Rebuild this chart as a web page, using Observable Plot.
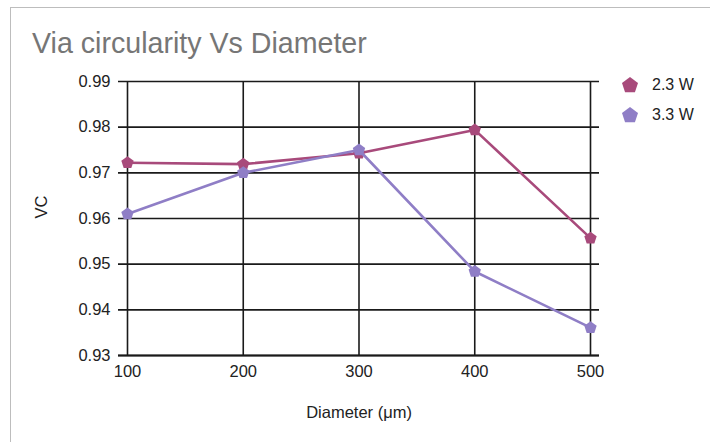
<!DOCTYPE html>
<html>
<head>
<meta charset="utf-8">
<script src="https://cdn.jsdelivr.net/npm/d3@7"></script>
<script src="https://cdn.jsdelivr.net/npm/@observablehq/plot@0.6"></script>
<style>
  html, body { margin: 0; padding: 0; background: #fff; overflow: hidden; }
  body { width: 710px; height: 442px; position: relative; font-family: "Liberation Sans", Arial, Helvetica, sans-serif; }
  #frame { position: absolute; left: 10px; top: 7px; width: 800px; height: 500px; border-left: 1.5px solid #bdbdbd; border-top: 1.5px solid #bdbdbd; }
  #title { position: absolute; left: 32px; top: 29px; font-size: 28.6px; line-height: 28px; color: #767676; white-space: nowrap; }
  #chart { position: absolute; left: 0; top: 0; }
  #legend { position: absolute; left: 621px; top: 70px; font-size: 16px; color: #222; }
  .item { display: flex; align-items: center; height: 30px; }
  .item svg { margin-right: 13px; }
</style>
</head>
<body>
<div id="frame"></div>
<div id="chart"></div>
<div id="title">Via circularity Vs Diameter</div>
<div id="legend"></div>
<script>
const diameters = [100, 200, 300, 400, 500];
const vc23 = [0.9722, 0.9719, 0.9743, 0.9794, 0.9557];
const vc33 = [0.9610, 0.9700, 0.9750, 0.9484, 0.9361];
const seriesNames = ["2.3 W", "3.3 W"];
const seriesColors = ["#a84a7b", "#8f7ec6"];
const yTicks = [0.93, 0.94, 0.95, 0.96, 0.97, 0.98, 0.99];
const xTicks = [100, 200, 300, 400, 500];

const pentagon = {
  draw(ctx, size) {
    const r = Math.sqrt(size / Math.PI);
    for (let i = 0; i < 5; i++) {
      const a = -Math.PI / 2 + i * 2 * Math.PI / 5;
      const x = r * Math.cos(a), y = r * Math.sin(a);
      if (i === 0) ctx.moveTo(x, y); else ctx.lineTo(x, y);
    }
    ctx.closePath();
  }
};

const rows23 = diameters.map((d, i) => ({d, v: vc23[i]}));
const rows33 = diameters.map((d, i) => ({d, v: vc33[i]}));

const chart = Plot.plot({
  width: 710,
  height: 442,
  marginTop: 81,
  marginBottom: 87,
  marginLeft: 127,
  marginRight: 120,
  style: {fontFamily: "'Liberation Sans', Arial, sans-serif", fontSize: "16.5px", color: "#222", background: "transparent"},
  x: {domain: [100, 500], ticks: xTicks},
  y: {domain: [0.93, 0.99], ticks: yTicks},
  marks: [
    Plot.ruleX(xTicks, {stroke: "#1a1a1a", strokeWidth: 1.6}),
    Plot.ruleY(yTicks, {stroke: "#1a1a1a", strokeWidth: 1.6, insetLeft: -9, insetRight: -9}),
    Plot.ruleY([0.93], {stroke: "#1a1a1a", strokeWidth: 2, insetLeft: -9, insetRight: -9}),
    Plot.axisX({ticks: xTicks, tickSize: 0, tickPadding: 10, tickFormat: d => String(d), label: null, fill: "#222"}),
    Plot.axisY({ticks: yTicks, tickSize: 0, tickPadding: 17, tickFormat: d => d.toFixed(2), label: null, fill: "#222"}),
    Plot.line(rows23, {x: "d", y: "v", stroke: seriesColors[0], strokeWidth: 2.6}),
    Plot.dot(rows23, {x: "d", y: "v", fill: seriesColors[0], r: 6.5, symbol: pentagon}),
    Plot.line(rows33, {x: "d", y: "v", stroke: seriesColors[1], strokeWidth: 2.6}),
    Plot.dot(rows33, {x: "d", y: "v", fill: seriesColors[1], r: 6.5, symbol: pentagon}),
    Plot.text(["Diameter (μm)"], {frameAnchor: "bottom", lineAnchor: "middle", dy: 57, fill: "#222", fontSize: 16.5}),
    Plot.text(["VC"], {frameAnchor: "left", dx: -86, rotate: -90, lineAnchor: "middle", fill: "#222", fontSize: 16.5})
  ]
});
document.getElementById("chart").appendChild(chart);

const legend = document.getElementById("legend");
seriesNames.forEach((name, i) => {
  const item = document.createElement("div");
  item.className = "item";
  const r = 8.4;
  const pts = d3.range(5).map(k => {
    const a = -Math.PI / 2 + k * 2 * Math.PI / 5;
    return [9 + r * Math.cos(a), 9.5 + r * Math.sin(a)].join(",");
  }).join(" ");
  item.innerHTML = `<svg width="18" height="18"><polygon points="${pts}" fill="${seriesColors[i]}"/></svg><span>${name}</span>`;
  legend.appendChild(item);
});
</script>
</body>
</html>
